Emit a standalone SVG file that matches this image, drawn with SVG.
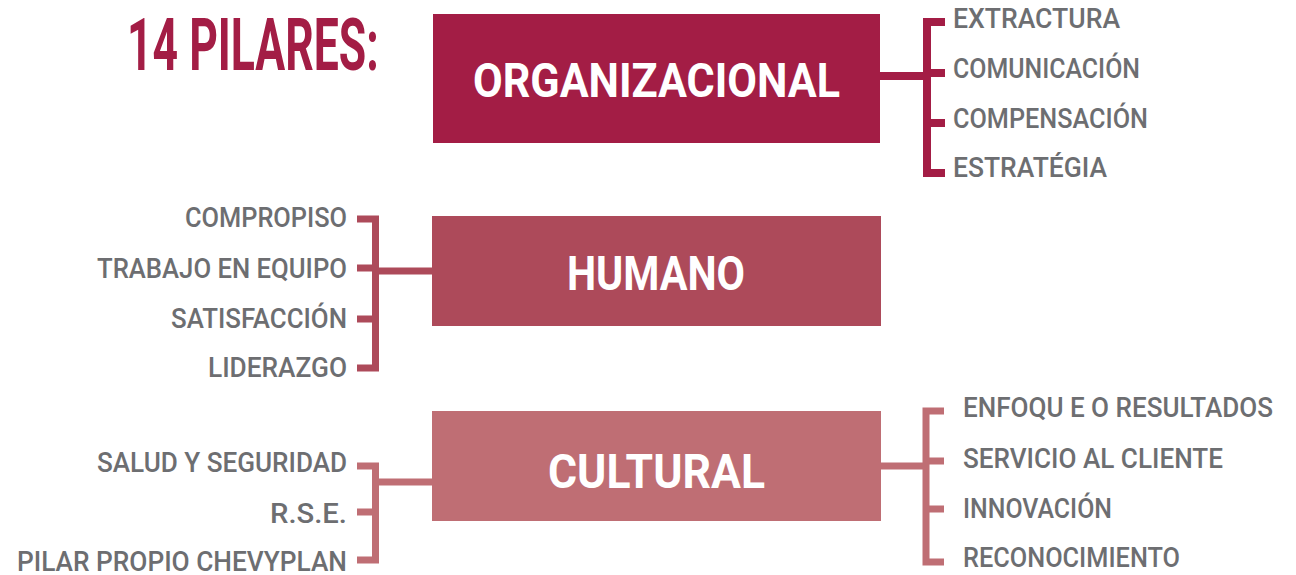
<svg xmlns="http://www.w3.org/2000/svg" width="1296" height="575" viewBox="0 0 1296 575">
<style>
.item{font-family:Roboto,"Liberation Sans",sans-serif;font-weight:500;font-size:27px;fill:#6d6e71}
.main{font-family:Roboto,"Liberation Sans",sans-serif;font-weight:700;font-size:48px;fill:#ffffff}
.title{font-family:Roboto,"Liberation Sans",sans-serif;font-weight:700;font-size:73px;fill:#a31d45}
.c1{fill:none;stroke:#a31d45;stroke-width:8}
.c2{fill:none;stroke:#ad4a5a;stroke-width:7}
.c3{fill:none;stroke:#bf6e74;stroke-width:7}
</style>
<rect width="1296" height="575" fill="#ffffff"/>
<text class="title" x="0" y="0" transform="matrix(0.61,0,0,1,127,70)">14 PILARES:</text>
<g id="connectors">
<path class="c1" d="M880,76 H927 M945,22 H927 V173 H945 M927,73 H945 M927,123 H945"/>
<path class="c2" d="M432,271 H375.5 M357,219 H375.5 V368 H357 M375.5,268 H357 M375.5,319 H357"/>
<path class="c3" d="M432,482 H375.5 M357,466 H375.5 V560 H357 M375.5,512 H357"/>
<path class="c3" d="M880,466 H926 M944,411 H926 V562 H944 M926,461 H944 M926,509 H944"/>
</g>
<g id="organizacional">
<rect x="433" y="14" width="447" height="129" fill="#a31d45"/>
<text class="main" x="473" y="97" textLength="367" lengthAdjust="spacingAndGlyphs">ORGANIZACIONAL</text>
</g>
<g id="humano">
<rect x="432" y="216" width="449" height="110" fill="#ad4a5a"/>
<text class="main" x="567" y="290" textLength="178" lengthAdjust="spacingAndGlyphs">HUMANO</text>
</g>
<g id="cultural">
<rect x="432" y="411" width="449" height="110" fill="#bf6e74"/>
<text class="main" x="548" y="488" textLength="217" lengthAdjust="spacingAndGlyphs">CULTURAL</text>
</g>
<g id="org-items">
<text class="item" x="953" y="28" textLength="167" lengthAdjust="spacingAndGlyphs">EXTRACTURA</text>
<text class="item" x="953" y="78" textLength="187" lengthAdjust="spacingAndGlyphs">COMUNICACIÓN</text>
<text class="item" x="953" y="128" textLength="195" lengthAdjust="spacingAndGlyphs">COMPENSACIÓN</text>
<text class="item" x="953" y="177" textLength="154" lengthAdjust="spacingAndGlyphs">ESTRATÉGIA</text>
</g>
<g id="humano-items">
<text class="item" x="185" y="227" textLength="162" lengthAdjust="spacingAndGlyphs">COMPROPISO</text>
<text class="item" x="97" y="278" textLength="250" lengthAdjust="spacingAndGlyphs">TRABAJO EN EQUIPO</text>
<text class="item" x="171" y="328" textLength="176" lengthAdjust="spacingAndGlyphs">SATISFACCIÓN</text>
<text class="item" x="208" y="377" textLength="139" lengthAdjust="spacingAndGlyphs">LIDERAZGO</text>
</g>
<g id="cultural-left-items">
<text class="item" x="97" y="472" textLength="250" lengthAdjust="spacingAndGlyphs">SALUD Y SEGURIDAD</text>
<text class="item" x="270" y="523" textLength="77" lengthAdjust="spacingAndGlyphs">R.S.E.</text>
<text class="item" x="17" y="571" textLength="330" lengthAdjust="spacingAndGlyphs">PILAR PROPIO CHEVYPLAN</text>
</g>
<g id="cultural-right-items">
<text class="item" x="963" y="417" textLength="310" lengthAdjust="spacingAndGlyphs">ENFOQU E O RESULTADOS</text>
<text class="item" x="963" y="468" textLength="260" lengthAdjust="spacingAndGlyphs">SERVICIO AL CLIENTE</text>
<text class="item" x="963" y="518" textLength="149" lengthAdjust="spacingAndGlyphs">INNOVACIÓN</text>
<text class="item" x="963" y="567" textLength="217" lengthAdjust="spacingAndGlyphs">RECONOCIMIENTO</text>
</g>
</svg>
